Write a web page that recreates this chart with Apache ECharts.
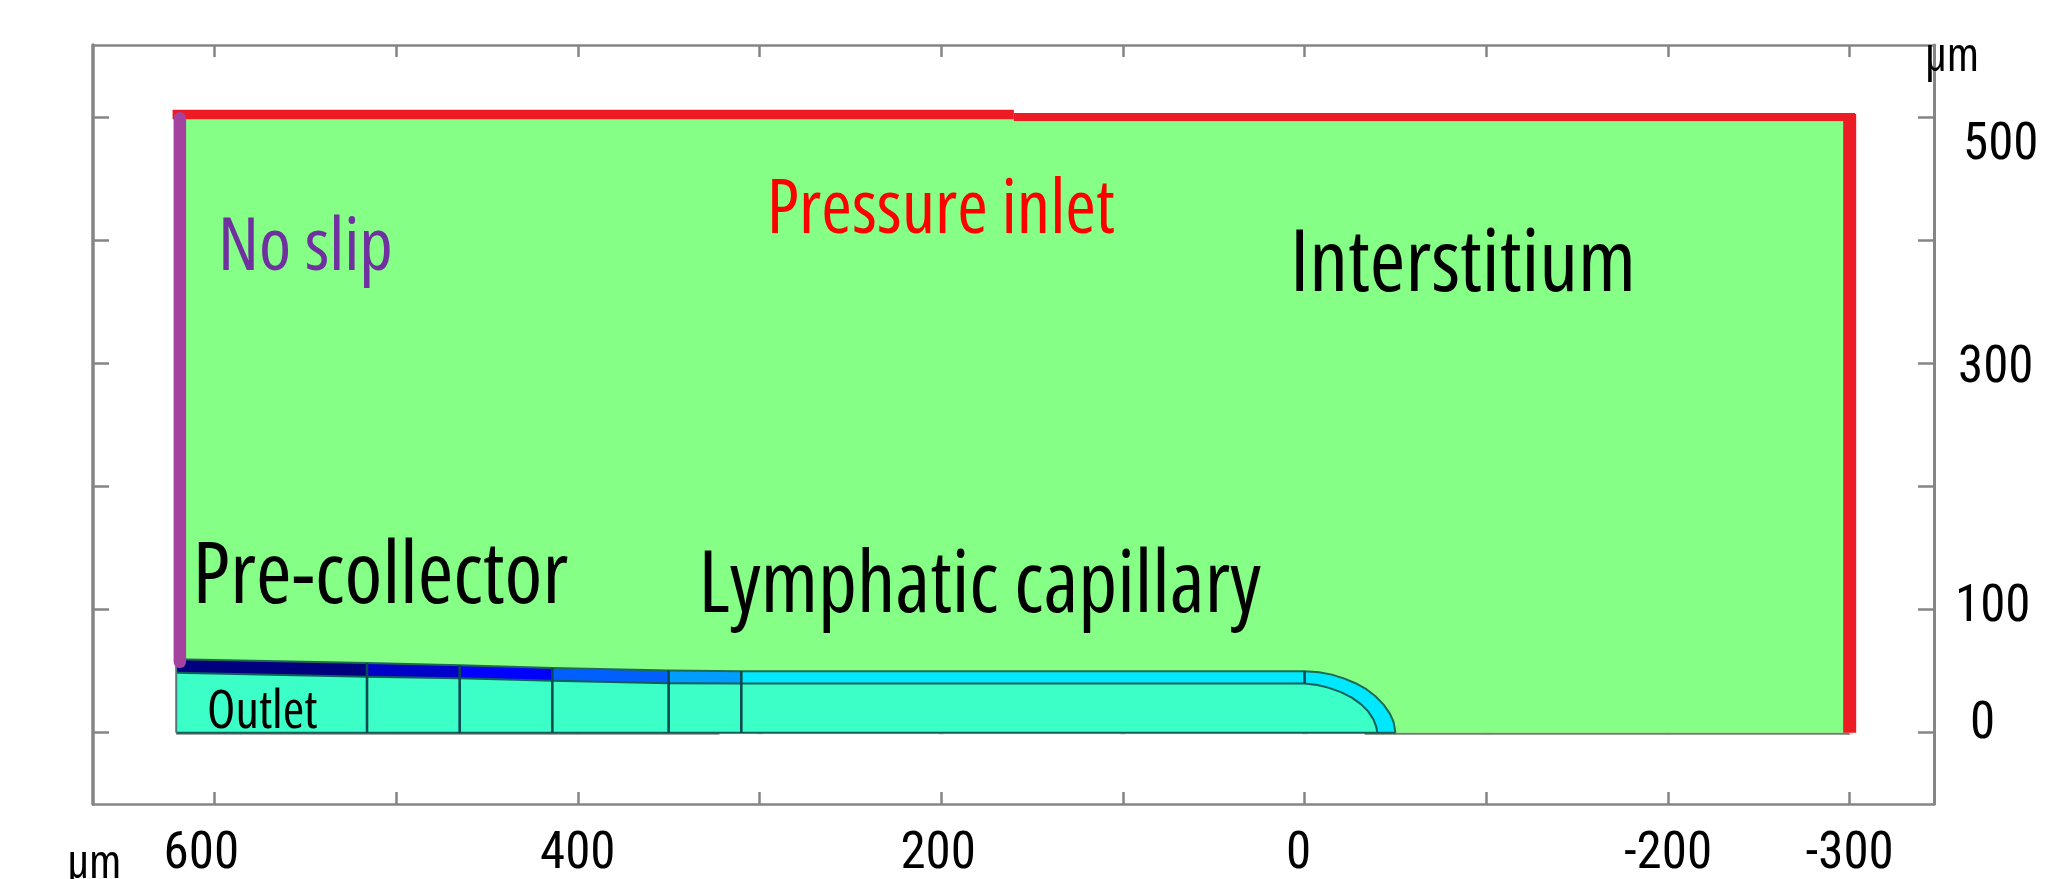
<!DOCTYPE html>
<html>
<head>
<meta charset="utf-8">
<style>html,body{margin:0;padding:0;background:#fff}#c{width:2072px;height:879px}</style>
<script src="https://cdn.jsdelivr.net/npm/echarts@6/dist/echarts.min.js"></script>
</head>
<body>
<div id="c"></div>
<script>
// axis ticks (µm)
const xTicks = [600,500,400,300,200,100,0,-100,-200,-300];
const xTickLabels = [600,400,200,0,-200,-300];
const yTicks = [500,400,300,200,100,0];
const yTickLabels = [500,300,100,0];

// tissue outline (µm)
const tissueX = [620,620,160,-300,-300,-50];
const tissueY = [57,500,500,500,0,0];

// vessel wall: station x, outer radius, inner radius
const wallX = [621,516,465,414,350,310];
const wallOuter = [59.7,56.6,54.8,52.6,50.6,50];
const wallInner = [48.8,45.5,44.2,42.3,40.2,40];
const wallFills = ['#00007f','#0000c8','#0000ff','#0060ff','#009cff'];

// rounded tip of the capillary
const tipOuterX = [0,-8,-15,-22,-28,-34,-39,-43.5,-47,-49,-50];
const tipOuterY = [50,49.2,47.2,43.9,40.2,35.3,29.6,22.8,15.3,8.5,0];
const tipInnerX = [0,-7,-13,-20,-26,-31,-35,-38,-39.5,-40];
const tipInnerY = [40,38.8,36.6,33,28.5,23.2,17.3,10.5,4.5,0];

// boundary condition lines
const redTopLeftX = [623,160], redTopLeftY = [502.5,502.5];
const redTopRightX = [160,-303], redTopRightY = [500.5,500.5];
const redRightX = [-300,-300], redRightY = [503,0];
const purpleX = [619,619], purpleY = [499.5,57.5];

// annotation text
const noteTexts = ['No slip','Pressure inlet','Interstitium','Pre-collector','Lymphatic capillary','Outlet','µm','µm'];
const noteX = [598,296,8,612,333.5,604,-341.5,681];
const noteY = [393,423,379,125.5,118,16,549,-107];
const noteColors = ['#7030a0','#ff0000','#000','#000','#000','#000','#000','#000'];
const noteSizes = [73,74,86,86,85,52,48,48];

const zip = (xs, ys) => xs.map((x, i) => [x, ys[i]]);
const FONT = '"Open Sans"';
const STRETCH = 'condensed'; // goes into the canvas font shorthand

function poly(name, fill, pts, z) {
  return {
    name, type: 'custom', coordinateSystem: 'cartesian2d', silent: true, z, data: pts,
    renderItem: (params, api) => params.dataIndex === 0 ? {
      type: 'polygon',
      shape: { points: pts.map(p => api.coord(p)) },
      style: { fill, stroke: 'none' }
    } : null
  };
}
function line(name, color, width, pts, z, cap) {
  return {
    name, type: 'line', data: pts, symbol: 'none', silent: true, z, connectNulls: false,
    lineStyle: { color, width, cap: cap || 'butt', join: 'round' }
  };
}

const OUTLINE = '#0d5f5a';
const series = [];

series.push(poly('Interstitium', '#85ff85', zip(tissueX, tissueY), 2));

const lumenPts = [[wallX[0],0]].concat(zip(wallX, wallInner), zip(tipInnerX, tipInnerY));
series.push(poly('Lumen', '#3bffc6', lumenPts, 3));

wallFills.forEach((fill, i) => {
  series.push(poly('Wall ' + i, fill, [
    [wallX[i], wallInner[i]], [wallX[i], wallOuter[i]],
    [wallX[i+1], wallOuter[i+1]], [wallX[i+1], wallInner[i+1]]
  ], 3));
});
const tipPts = [[wallX[5], wallOuter[5]]].concat(
  zip(tipOuterX, tipOuterY),
  zip(tipInnerX, tipInnerY).reverse(),
  [[wallX[5], wallInner[5]]]
);
series.push(poly('Wall tip', '#00e8ff', tipPts, 3));

const outerEdge = zip(wallX, wallOuter).concat(zip(tipOuterX, tipOuterY));
const innerEdge = zip(wallX, wallInner).concat(zip(tipInnerX, tipInnerY));
series.push(line('Outer edge', '#1f6b4f', 2, outerEdge, 4));
series.push(line('Inner edge', OUTLINE, 2, innerEdge, 4));
series.push(line('Base', OUTLINE, 2, [[wallX[0],0],[-50,0]], 4));
series.push(line('Outlet edge', '#55757a', 2, [[wallX[0],0],[wallX[0],wallOuter[0]]], 4));

series.push(line('Baseline left', '#8a8a8a', 2, [[wallX[0],-0.8],[322,-0.8]], 3));
series.push(line('Baseline right', '#6f7f6f', 2, [[-33,-0.8],[-300,-0.8]], 3));

wallX.slice(1).forEach((x, i) => {
  series.push(line('Divider ' + i, '#0a4a50', 2.6, [[x,0],[x,wallOuter[i+1]]], 5));
});
series.push(line('Divider tip', '#0a4a50', 2.6, [[0,wallInner[5]],[0,wallOuter[5]]], 5));

series.push(line('Pressure inlet top A', '#ed1c24', 9.5, zip(redTopLeftX, redTopLeftY), 6));
series.push(line('Pressure inlet top B', '#ed1c24', 8, zip(redTopRightX, redTopRightY), 6));
series.push(line('Pressure inlet right', '#ed1c24', 13, zip(redRightX, redRightY), 6));
series.push(line('No slip', '#a5429f', 12.5, zip(purpleX, purpleY), 7, 'round'));

series.push({
  name: 'Notes', type: 'scatter', symbolSize: 0, clip: false, silent: true, z: 10,
  itemStyle: { opacity: 1 },
  data: noteTexts.map((t, i) => ({
    name: t, value: [noteX[i], noteY[i]],
    label: { color: noteColors[i], fontSize: noteSizes[i] }
  })),
  label: {
    show: true, position: 'right', distance: 0, fontFamily: FONT, fontWeight: STRETCH,
    formatter: p => p.name
  },
  labelLayout: { hideOverlap: false }
});

const AXIS = '#858585';
const tickText = { fontFamily: '"Roboto Condensed"', fontWeight: 'normal', fontSize: 51, color: '#000' };
function xAx(pos, lw, withLabels) {
  return {
    type: 'value', inverse: true, min: -346.4, max: 666.8, position: pos,
    axisLine: { show: true, onZero: false, lineStyle: { color: AXIS, width: lw } },
    axisTick: { show: true, inside: true, length: 12, customValues: xTicks, lineStyle: { color: AXIS, width: 2.5 } },
    splitLine: { show: false },
    axisLabel: withLabels ? Object.assign({}, tickText, {
      show: true, customValues: xTickLabels, margin: 26,
      hideOverlap: false, showMinLabel: true, showMaxLabel: true,
      formatter: v => v === 600 ? '{a|600}' : v === 200 ? '{b|200}' : v === 0 ? '{c|0}' : '{d|' + v + '}',
      rich: {
        a: Object.assign({}, tickText, { padding: [0,26,0,0] }),
        b: Object.assign({}, tickText, { padding: [0,6,0,0] }),
        c: Object.assign({}, tickText, { padding: [0,12,0,0] }),
        d: Object.assign({}, tickText)
      }
    }) : { show: false }
  };
}
function yAx(pos, lw, withLabels) {
  return {
    type: 'value', min: -58, max: 559.1, position: pos,
    axisLine: { show: true, onZero: false, lineStyle: { color: AXIS, width: lw } },
    axisTick: { show: true, inside: true, length: 16, customValues: yTicks, lineStyle: { color: AXIS, width: 2.5 } },
    splitLine: { show: false },
    axisLabel: withLabels ? Object.assign({}, tickText, {
      show: true, customValues: yTickLabels, margin: 21,
      hideOverlap: false,
      formatter: v => '{r' + v + '|' + v + '}',
      rich: {
        r500: Object.assign({}, tickText, { padding: [58,0,0,8] }),
        r300: Object.assign({}, tickText, { padding: [12,0,0,3] }),
        r100: Object.assign({}, tickText, { padding: [0,0,2,0] }),
        r0: Object.assign({}, tickText, { padding: [0,0,15,15] })
      }
    }) : { show: false }
  };
}
// faint tick ghosts just below the bottom frame
const ghostAxis = {
  type: 'value', inverse: true, min: -346.4, max: 666.8, position: 'bottom', offset: 8,
  axisLine: { show: false },
  axisTick: { show: true, inside: false, length: 2, customValues: xTicks, lineStyle: { color: '#e2e2e2', width: 6 } },
  axisLabel: { show: false }, splitLine: { show: false }
};

const chart = echarts.init(document.getElementById('c'), null, { renderer: 'canvas' });
chart.setOption({
  animation: false,
  backgroundColor: '#fff',
  grid: { left: 93, top: 45, width: 1841, height: 759, containLabel: false, outerBoundsMode: 'none' },
  xAxis: [xAx('bottom', 2.5, true), xAx('top', 2.5, false), ghostAxis],
  yAxis: [yAx('right', 3, true), yAx('left', 3.5, false)],
  series
});
</script>
</body>
</html>
